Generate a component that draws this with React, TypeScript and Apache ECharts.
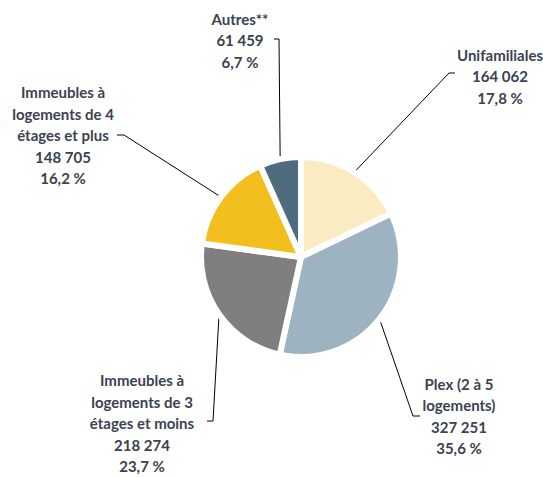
import React, { useEffect, useRef } from "react";
import * as echarts from "echarts";

const categories = [
  "Unifamiliales",
  "Plex (2 à 5\nlogements)",
  "Immeubles à\nlogements de 3\nétages et moins",
  "Immeubles à\nlogements de 4\nétages et plus",
  "Autres**",
];
const values = [164062, 327251, 218274, 148705, 61459];
const colors = ["#FBEBC2", "#9DB3C1", "#7F7F7F", "#F2BF1F", "#4F6B7E"];

// label block centres and leader-line elbows (layout only)
const labelCenters = [
  [500, 76],
  [459, 416],
  [142, 423],
  [63, 135],
  [240, 40],
];
const leaderElbows = [
  [[449, 73], [455, 73]],
  [[413, 416], [420, 416]],
  [[213, 421], [207, 421]],
  [[124, 135], [117, 135]],
  [[279, 39], [274, 39]],
];

const fmtNum = (v: number) => String(v).replace(/\B(?=(\d{3})+(?!\d))/g, " ");

export default function App() {
  const ref = useRef<HTMLDivElement>(null);
  useEffect(() => {
    if (!ref.current) return;
    const chart = echarts.init(ref.current, null, { renderer: "svg" });
    chart.setOption({
      animation: false,
      backgroundColor: "#ffffff",
      series: [
        {
          type: "pie",
          center: [301, 257],
          radius: 100,
          startAngle: 90,
          clockwise: true,
          emphasis: { disabled: true },
          itemStyle: { borderColor: "#ffffff", borderWidth: 6 },
          data: categories.map((c, i) => ({
            name: c,
            value: values[i],
            itemStyle: { color: colors[i] },
          })),
          label: {
            show: true,
            formatter: (p: any) =>
              `${p.name}\n${fmtNum(p.value)}\n${p.percent.toFixed(1).replace(".", ",")} %`,
            fontFamily: "Lato",
            fontWeight: "bold",
            fontSize: 15,
            lineHeight: 21.5,
            color: "#3B4250",
            align: "center",
          },
          labelLine: {
            show: true,
            lineStyle: { color: "#000000", width: 1 },
          },
          labelLayout: (params: any) => {
            const i = params.dataIndex;
            const pts = params.labelLinePoints;
            const start = pts ? pts[0] : [0, 0];
            return {
              x: labelCenters[i][0],
              y: labelCenters[i][1],
              align: "center",
              verticalAlign: "middle",
              labelLinePoints: [start, leaderElbows[i][0], leaderElbows[i][1]],
            };
          },
        },
      ],
    });
    return () => chart.dispose();
  }, []);
  return (
    <div
      ref={ref}
      style={{ position: "fixed", left: 0, top: 0, width: 543, height: 477 }}
    />
  );
}
